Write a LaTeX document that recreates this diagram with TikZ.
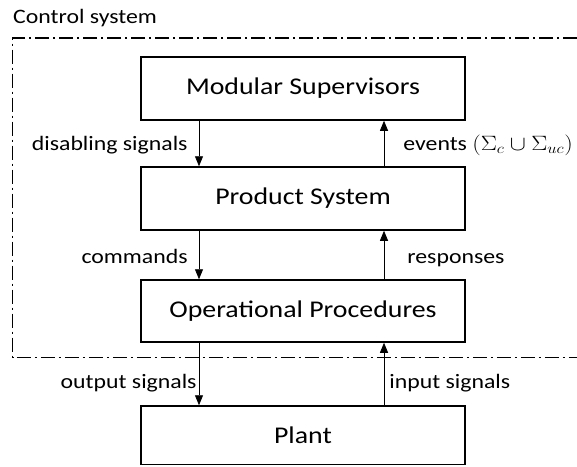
\documentclass[tikz,border=0pt]{standalone}
\usepackage{graphicx}
\usepackage{fontspec}
\setmainfont{Carlito}
\usepackage{amsmath,amssymb}
\usetikzlibrary{arrows.meta}

% text in the reference is a little wider than it is high
\newcommand{\wtext}[1]{\scalebox{1.16}[1]{#1}}

\tikzset{
  block/.style={draw, line width=1.5pt, minimum width=324pt, minimum height=63pt,
    font=\fontsize{24}{28}\selectfont},
  flow/.style={-{Triangle[length=10pt,width=8pt]}, line width=0.8pt},
  lbl/.style={font=\fontsize{20.5}{24}\selectfont, inner sep=0pt}
}

\begin{document}
\begin{tikzpicture}[x=1pt,y=-1pt]
	\useasboundingbox (0,0) rectangle (577,466);

	% title of the control system
	\node[lbl, anchor=west] (title) at (13,18) {\wtext{Control system}};

	% the dash-dotted frame of the control system
	\coordinate (f1) at (577,38);
	\coordinate (f2) at (12.7,38);
	\coordinate (f3) at (12.7,357.5);
	\coordinate (f4) at (577,357.5);
	\draw[line width=1.4pt, dash pattern=on 14pt off 4pt on 2pt off 4pt] (f1) -- (f2) -- (f3) -- (f4);

	% the four blocks
	\node[block] (ms) at (303,88.5) {\wtext{Modular Supervisors}};
	\node[block] (ps) at (303,198.5) {\wtext{Product System}};
	\node[block, minimum height=62pt] (op) at (303,311) {\wtext{Operational Procedures}};
	\node[block, minimum height=58.5pt] (pl) at (303,435.25) {\wtext{Plant}};

	% downward arrows on the left
	\draw[flow] ([xshift=-104pt]ms.south) -- node[lbl, anchor=east, pos=0.53, xshift=-11pt] {\wtext{disabling signals}} ([xshift=-104pt]ps.north);
	\draw[flow] ([xshift=-104pt]ps.south) -- node[lbl, anchor=east, pos=0.54, xshift=-11pt] {\wtext{commands}} ([xshift=-104pt]op.north);
	\draw[flow] ([xshift=-104pt]op.south) -- node[lbl, anchor=east, pos=0.64, xshift=-2pt] {\wtext{output signals}} ([xshift=-104pt]pl.north);

	% upward arrows on the right
	\draw[flow] ([xshift=81pt]ps.north) -- node[lbl, anchor=west, pos=0.47, xshift=19pt] {\wtext{events $(\Sigma_c \cup \Sigma_{uc})$}} ([xshift=81pt]ms.south);
	\draw[flow] ([xshift=81pt]op.north) -- node[lbl, anchor=west, pos=0.4, xshift=23pt] {\wtext{responses}} ([xshift=81pt]ps.south);
	\draw[flow] ([xshift=81pt]pl.north) -- node[lbl, anchor=west, pos=0.36, xshift=5pt] {\wtext{input signals}} ([xshift=81pt]op.south);
\end{tikzpicture}
\end{document}
